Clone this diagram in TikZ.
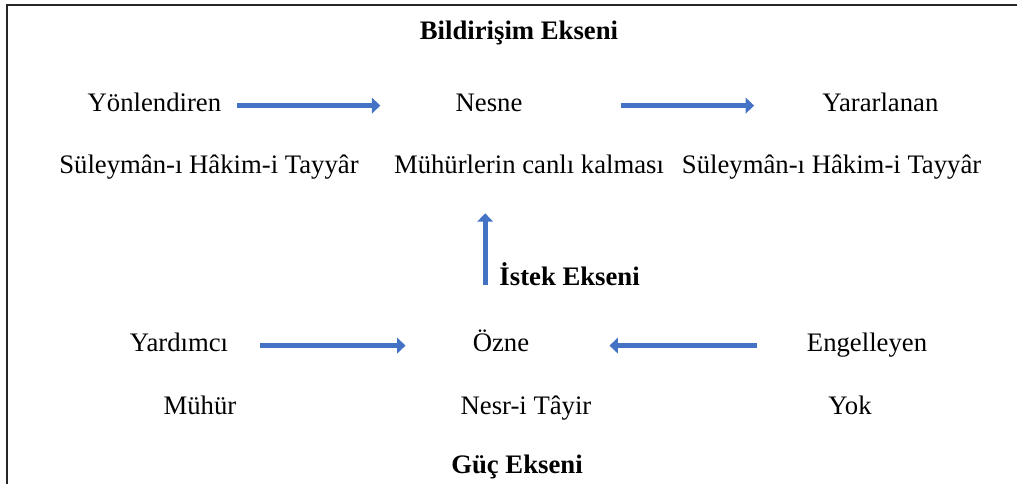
\documentclass[tikz,border=0pt]{standalone}
\usepackage{fontspec}
\setmainfont{Liberation Serif}
\usetikzlibrary{arrows.meta}
\definecolor{okmavi}{HTML}{4472C4}
\definecolor{cerceve}{HTML}{262626}
\tikzset{
	eleman/.style={inner sep=0pt, anchor=base, text height=0.42cm, text depth=0.1cm, font=\fontsize{19}{23}\selectfont},
	eksen/.style={eleman, font=\fontsize{19}{23}\selectfont\bfseries},
	okcizgi/.style={draw=okmavi, line width=3.6pt, arrows={-{Triangle[length=6pt, width=11pt]}}}
}

\begin{document}
\begin{tikzpicture}
	\useasboundingbox (0,0) rectangle (25.5,12.1);
	\draw [cerceve, line width=1.4pt] (25.43,11.975) -- (0.175,11.975) -- (0.175,0);
	% bildirim ekseni
	\node [eksen] (bildirisim) at (12.975,11.1) {Bildirişim Ekseni};
	\node [eleman] (yon) at (3.86,9.3) {Yönlendiren};
	\node [eleman] (nesne) at (12.225,9.3) {Nesne};
	\node [eleman] (yararlanan) at (22.01,9.3) {Yararlanan};
	\node [eleman] (sulA) at (5.225,7.75) {Süleymân-ı Hâkim-i Tayyâr};
	\node [eleman] (canli) at (13.225,7.75) {Mühürlerin canlı kalması};
	\node [eleman] (sulB) at (20.79,7.75) {Süleymân-ı Hâkim-i Tayyâr};
	% istek ekseni
	\node [eksen] (istek) at (14.24,4.95) {İstek Ekseni};
	% güç ekseni
	\node [eleman] (yardimci) at (4.475,3.3) {Yardımcı};
	\node [eleman] (ozne) at (12.525,3.3) {Özne};
	\node [eleman] (engelleyen) at (21.675,3.3) {Engelleyen};
	\node [eleman] (muhur) at (5.0,1.725) {Mühür};
	\node [eleman] (nesr) at (13.15,1.725) {Nesr-i Tâyir};
	\node [eleman] (yok) at (21.25,1.725) {Yok};
	\node [eksen] (guc) at (12.925,0.25) {Güç Ekseni};
	\draw [okcizgi] ([xshift=0.4cm]yon.east) -- ([xshift=-1.875cm]nesne.west);
	\draw [okcizgi] ([xshift=2.45cm]nesne.east) -- ([xshift=-1.7cm]yararlanan.west);
	\draw [okcizgi] ([xshift=0.8cm]yardimci.east) -- ([xshift=-1.675cm]ozne.west);
	\draw [okcizgi] ([xshift=-1.25cm]engelleyen.west) -- ([xshift=2cm]ozne.east);
	\coordinate (istekalt) at ([xshift=-0.35cm, yshift=0.025cm]istek.base west);
	\draw [okcizgi, shorten >=0.875cm] (istekalt) -- (istekalt |- canli.south);
\end{tikzpicture}
\end{document}
